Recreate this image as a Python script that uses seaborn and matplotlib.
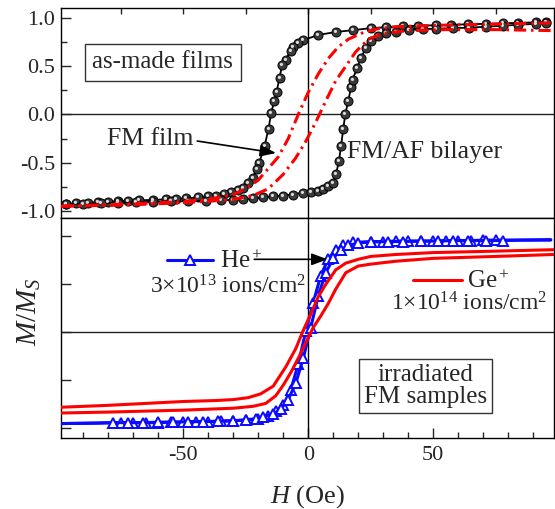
import matplotlib
matplotlib.use("Agg")
import matplotlib.pyplot as plt
from matplotlib import font_manager
from matplotlib.ticker import MultipleLocator, FormatStrFormatter
from matplotlib.markers import MarkerStyle
from matplotlib.transforms import Affine2D
from matplotlib.lines import Line2D
import seaborn as sns

# --- as-made films (top panel) ---
# FM/AF bilayer, black loop with ball markers
afm_down_h = [95, 91, 84, 78, 71, 64, 57, 51, 44, 38, 31, 25, 18, 11, 4, -2, -4, -6, -7, -9,
              -10.5, -11.5, -12.7, -13.6, -14.8, -15.9, -17.5, -19.6, -20.5, -22.3,
              -24.3, -26.3, -28.3, -31, -33.6, -36.9, -40.3, -44.3, -48.9, -53,
              -57, -62, -67.6, -72, -76, -80, -84, -88, -93, -97]
afm_down_m = [0.96, 0.955, 0.95, 0.945, 0.94, 0.935, 0.93, 0.925, 0.92, 0.915,
              0.905, 0.895, 0.875, 0.855, 0.825, 0.77, 0.74, 0.70, 0.66, 0.57,
              0.51, 0.38, 0.23, 0.14, 0.02, -0.15, -0.33, -0.50, -0.56, -0.66,
              -0.71, -0.76, -0.78, -0.80, -0.82, -0.84, -0.85, -0.86, -0.87, -0.875,
              -0.88, -0.885, -0.89, -0.895, -0.90, -0.905, -0.91, -0.915, -0.92, -0.93]
afm_up_h = [-97, -90, -83, -76, -69, -62, -55, -48, -41, -35,
            -30, -26, -22, -18, -14, -10.3, -6.3, -2.3, 1, 3.7,
            5.7, 8, 9.7, 11.1, 12.3, 13.1, 14.0, 14.8, 16, 17.1,
            17.7, 19.5, 21.1, 23.1, 25.1, 27.7, 31.1, 35, 40.4, 46,
            51, 58, 64.4, 71, 77.7, 84, 91, 95]
afm_up_m = [-0.93, -0.925, -0.92, -0.915, -0.91, -0.905, -0.90, -0.90, -0.895, -0.89,
            -0.885, -0.88, -0.87, -0.86, -0.85, -0.84, -0.83, -0.81, -0.80, -0.79,
            -0.77, -0.74, -0.71, -0.62, -0.48, -0.33, -0.15, 0.0, 0.14, 0.28,
            0.36, 0.48, 0.59, 0.69, 0.76, 0.81, 0.84, 0.86, 0.88, 0.885,
            0.89, 0.895, 0.90, 0.91, 0.92, 0.93, 0.94, 0.95]

# FM film, red dash-dot loop
fm_down_h = [97, 80, 60, 45, 35, 28, 22, 16, 12, 8, 4, 0, -4, -8, -12, -16, -20, -25, -30, -40, -55, -75, -99]
fm_down_m = [0.95, 0.94, 0.93, 0.92, 0.91, 0.89, 0.85, 0.78, 0.70, 0.58, 0.42, 0.23, 0.0, -0.25,
             -0.44, -0.56, -0.68, -0.77, -0.83, -0.88, -0.91, -0.93, -0.95]
fm_up_h = [-99, -75, -55, -40, -30, -22, -16, -10, -5, -1, 3, 7, 11, 15, 19, 24, 30, 40, 55, 75, 97]
fm_up_m = [-0.95, -0.94, -0.92, -0.90, -0.88, -0.84, -0.77, -0.62, -0.45, -0.28, -0.08,
           0.14, 0.35, 0.50, 0.65, 0.78, 0.84, 0.87, 0.88, 0.88, 0.87]

# --- irradiated FM samples (bottom panel) ---
he_down_h = [97, 85, 75, 70, 65, 60, 55, 50, 45, 40, 35, 30, 25, 18, 14, 11, 8, 5, 2, -1, -4, -7,
             -10, -13, -16, -20, -25, -30, -35, -40, -45, -50, -55, -60, -65, -70, -75, -85, -99]
he_down_m = [0.965, 0.96, 0.96, 0.96, 0.955, 0.955, 0.955, 0.95, 0.95, 0.95, 0.95, 0.945, 0.945,
             0.935, 0.905, 0.855, 0.765, 0.59, 0.31, 0.01, -0.33, -0.60,
             -0.76, -0.82, -0.87, -0.90, -0.915, -0.92, -0.925, -0.93, -0.93, -0.935,
             -0.935, -0.94, -0.94, -0.94, -0.94, -0.945, -0.95]
he_up_h = [-99, -85, -78, -72, -66, -60, -54, -48, -42, -36, -30, -25, -21, -18, -14, -11, -8, -5,
           -2, 1, 4, 7, 10, 13, 16, 20, 25, 32, 38, 45, 52, 58, 64, 71, 78, 85, 97]
he_up_m = [-0.95, -0.945, -0.94, -0.94, -0.94, -0.935, -0.935, -0.93, -0.93, -0.925, -0.92,
           -0.91, -0.90, -0.88, -0.85, -0.80, -0.70, -0.53, -0.27, 0.05, 0.38, 0.62,
           0.77, 0.86, 0.905, 0.93, 0.94, 0.945, 0.945, 0.95, 0.95, 0.955, 0.955,
           0.955, 0.955, 0.96, 0.96]

ge_down_h = [98, 75, 50, 35, 25, 20, 15, 11, 7, 4, 1, -2, -5, -9, -14, -19, -24, -30, -37, -50, -65, -80, -99]
ge_down_m = [0.86, 0.845, 0.83, 0.81, 0.79, 0.76, 0.72, 0.65, 0.50, 0.37, 0.19, 0.02, -0.17,
             -0.36, -0.56, -0.64, -0.68, -0.70, -0.71, -0.72, -0.74, -0.76, -0.78]
ge_up_h = [-99, -80, -65, -50, -40, -30, -22, -17, -13, -10, -7, -4, -1, 2, 5, 8, 11, 15, 20, 25, 35, 50, 75, 98]
ge_up_m = [-0.84, -0.83, -0.82, -0.81, -0.80, -0.79, -0.77, -0.74, -0.66, -0.55, -0.42, -0.27,
           -0.11, 0.05, 0.17, 0.30, 0.45, 0.62, 0.69, 0.71, 0.74, 0.77, 0.79, 0.81]

RED = "#ff0000"
BLUE = "#0a0aff"

sns.set_style("ticks")

# police type Times : Liberation Serif si présente, sinon STIX (fournie avec matplotlib)
try:
    font_manager.findfont("Liberation Serif", fallback_to_default=False)
    SERIF = "Liberation Serif"
except ValueError:
    SERIF = "STIXGeneral"

plt.rcParams["font.family"] = "serif"
plt.rcParams["font.serif"] = [SERIF, "STIXGeneral", "DejaVu Serif"]
if SERIF == "Liberation Serif":
    plt.rcParams["mathtext.fontset"] = "custom"
    plt.rcParams["mathtext.rm"] = "Liberation Serif"
    plt.rcParams["mathtext.it"] = "Liberation Serif:italic"
else:
    plt.rcParams["mathtext.fontset"] = "stix"
plt.rcParams["axes.unicode_minus"] = False
plt.rcParams["axes.linewidth"] = 1.0
plt.rcParams["axes.edgecolor"] = "black"


def branch(ax, h, m, **kw):
    # une branche du cycle, dans l'ordre du balayage
    sns.lineplot(x=h, y=m, ax=ax, sort=False, estimator=None, errorbar=None, legend=False, **kw)


fig = plt.figure(figsize=(5.55, 5.09), dpi=100)
ax1 = fig.add_axes([61 / 555, 1 - 218 / 509, 493 / 555, 210 / 509])
ax2 = fig.add_axes([61 / 555, 1 - 438 / 509, 493 / 555, 220 / 509])

for ax in (ax1, ax2):
    ax.axhline(0, color="#222222", lw=1.0, zorder=1)
    ax.axvline(0, color="black", lw=1.0, zorder=1)
    ax.set_xlim(-98.9, 98.3)

# Panneau du haut
ball = dict(marker="o", markersize=6.5, markerfacecolor="#3a3a3a",
            markeredgecolor="black", markeredgewidth=0.7)
hl = MarkerStyle("o", transform=Affine2D().scale(0.35).translate(-0.12, 0.12))
for h, m in [(afm_down_h, afm_down_m), (afm_up_h, afm_up_m)]:
    branch(ax1, h, m, color="black", lw=1.3, zorder=3, **ball)
    branch(ax1, h, m, color="#dddddd", lw=0, marker=hl, markersize=6.5,
           markeredgewidth=0, markeredgecolor="#dddddd", zorder=4)

for h, m in [(fm_down_h, fm_down_m), (fm_up_h, fm_up_m)]:
    branch(ax1, h, m, color=RED, lw=2.2, linestyle=(0, (4, 1.6, 0.8, 1.6)), zorder=5)

ax1.set_ylim(-1.073, 1.104)
ax1.yaxis.set_major_locator(MultipleLocator(0.5))
ax1.yaxis.set_minor_locator(MultipleLocator(0.25))
ax1.yaxis.set_major_formatter(FormatStrFormatter("%.1f"))
ax1.xaxis.set_major_locator(MultipleLocator(25))
ax1.tick_params(axis="y", which="both", direction="in", left=True, right=False,
                labelsize=16, pad=4, width=1)
ax1.tick_params(axis="y", which="major", length=7)
ax1.tick_params(axis="y", which="minor", length=4)
ax1.tick_params(axis="x", which="both", direction="in", bottom=False, top=True,
                labelbottom=False, labeltop=False, length=4, width=1)
ax1.set_xlabel("")
ax1.set_ylabel("")

ax1.text(-58.2, 0.544, "as-made films", ha="center", va="center", fontsize=18,
         bbox=dict(boxstyle="square,pad=0.3", fc="white", ec="#333333", lw=1))
ax1.text(-63.2, -0.25, "FM film", ha="center", va="center", fontsize=18.5)
ax1.annotate("", xy=(-12.9, -0.40), xytext=(-44.4, -0.275),
             arrowprops=dict(arrowstyle="-|>,head_length=0.8,head_width=0.3",
                             color="black", lw=1.2, mutation_scale=12, shrinkA=0, shrinkB=0))
ax1.text(15.6, -0.39, "FM/AF bilayer", ha="left", va="center", fontsize=18.5)

# Panneau du bas
for h, m in [(he_down_h, he_down_m), (he_up_h, he_up_m)]:
    branch(ax2, h, m, color=BLUE, lw=2.2, marker="^", markersize=7,
           markerfacecolor="white", markeredgecolor=BLUE, markeredgewidth=1.4,
           markevery=slice(2, -2), zorder=3)
for h, m in [(ge_down_h, ge_down_m), (ge_up_h, ge_up_m)]:
    branch(ax2, h, m, color=RED, lw=2.2, zorder=4)

ax2.set_ylim(-1.10, 1.19)
ax2.yaxis.set_major_locator(MultipleLocator(0.5))
ax2.xaxis.set_major_locator(MultipleLocator(50))
ax2.xaxis.set_minor_locator(MultipleLocator(10))
ax2.tick_params(axis="y", which="both", direction="in", left=True, right=False,
                labelleft=False, length=7, width=1)
ax2.tick_params(axis="x", which="both", direction="in", bottom=True, top=False,
                labelsize=16, pad=6, width=1)
ax2.tick_params(axis="x", which="major", length=7)
ax2.tick_params(axis="x", which="minor", length=4)

ax2.set_xlabel("$H$ (Oe)", fontsize=19)
ax2.xaxis.set_label_coords(0.5, -0.205)
ax2.set_ylabel("$M/M_S$", fontsize=21)
ax2.yaxis.set_label_coords(-0.037, 0.573)

h_he = Line2D([], [], color=BLUE, lw=2.2, marker="^", markersize=7,
              markerfacecolor="white", markeredgecolor=BLUE, markeredgewidth=1.4)
leg1 = ax2.legend([h_he], ["He$^+$"], loc="center left", bbox_to_anchor=(0.2144, 0.80),
                  frameon=False, fontsize=18, handlelength=1.85, handletextpad=0.3,
                  borderpad=0, borderaxespad=0)
ax2.add_artist(leg1)
h_ge = Line2D([], [], color=RED, lw=2.2)
ax2.legend([h_ge], ["Ge$^+$"], loc="center left", bbox_to_anchor=(0.714, 0.71),
           frameon=False, fontsize=18, handlelength=1.95, handletextpad=0.2,
           borderpad=0, borderaxespad=0)

ax2.annotate("", xy=(7.7, 0.76), xytext=(-21.6, 0.76),
             arrowprops=dict(arrowstyle="-|>,head_length=0.8,head_width=0.3",
                             color="black", lw=1.2, mutation_scale=12, shrinkA=0, shrinkB=0))
ax2.text(-32, 0.47, "3×10$^{13}$ ions/cm$^2$", ha="center", va="center", fontsize=17)
ax2.text(64.4, 0.30, "1×10$^{14}$ ions/cm$^2$", ha="center", va="center", fontsize=17)
ax2.text(47, -0.555, "irradiated\nFM samples", ha="center", va="center", fontsize=18,
         linespacing=1.0, multialignment="center",
         bbox=dict(boxstyle="square,pad=0.2", fc="white", ec="#333333", lw=1))

fig.savefig("out.png", dpi=100)
